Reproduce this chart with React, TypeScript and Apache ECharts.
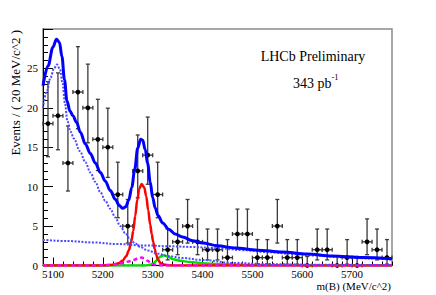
import React, { useEffect, useRef } from 'react';
import * as echarts from 'echarts';

const SERIF = 'Liberation Serif, Times New Roman, serif';

// Histogram (20 MeV bins)
const binCenters = [5090, 5110, 5130, 5150, 5170, 5190, 5210, 5230, 5250, 5270, 5290, 5310, 5330, 5350, 5370, 5390, 5410, 5430, 5450, 5470, 5490, 5510, 5530, 5550, 5570, 5590, 5610, 5630, 5650, 5670, 5690, 5710, 5730, 5750, 5770];
const binCounts = [18, 19, 13, 22, 20, 16, 15, 9, 5, 12, 14, 9, 2, 3, 5, 3, 2, 2, 1, 4, 4, 1, 1, 5, 1, 1, 0, 2, 2, 0, 1, 0, 3, 2, 1];
const binHalfWidth = 10;

// Axis ticks
const xMajorTicks = [5100, 5200, 5300, 5400, 5500, 5600, 5700];
const xMinorTicks = [5080, 5100, 5120, 5140, 5160, 5180, 5200, 5220, 5240, 5260, 5280, 5300, 5320, 5340, 5360, 5380, 5400, 5420, 5440, 5460, 5480, 5500, 5520, 5540, 5560, 5580, 5600, 5620, 5640, 5660, 5680, 5700, 5720, 5740, 5760, 5780];

// Total fit (solid blue)
const totalMass = [5080, 5090, 5100, 5107, 5113, 5118, 5123, 5128, 5134, 5140, 5147, 5155, 5165, 5175, 5185, 5195, 5205, 5215, 5225, 5233, 5240, 5246, 5252, 5258, 5264, 5270, 5276, 5280, 5285, 5290, 5295, 5300, 5305, 5311, 5320, 5332, 5345, 5360, 5380, 5400, 5430, 5465, 5510, 5560, 5610, 5660, 5720, 5780];
const totalFit = [22.8, 25.3, 27.7, 28.7, 28.3, 26.5, 23.6, 20.9, 19.6, 19.0, 18.2, 16.9, 15.4, 14.2, 13.0, 11.8, 10.7, 9.5, 8.4, 7.6, 7.25, 7.45, 8.3, 9.9, 12.2, 14.9, 16.0, 15.9, 14.7, 12.9, 10.6, 8.6, 7.3, 6.3, 5.4, 4.6, 4.0, 3.6, 3.15, 2.85, 2.5, 2.22, 1.95, 1.7, 1.45, 1.2, 1.0, 0.84];

// Partially reconstructed background (dotted blue)
const partMass = [5080, 5088, 5095, 5102, 5108, 5114, 5119, 5124, 5129, 5135, 5142, 5154, 5165, 5175, 5185, 5195, 5205, 5215, 5225, 5235, 5245, 5255, 5265, 5275, 5290, 5310, 5330, 5360, 5400, 5460, 5530, 5620, 5700, 5780];
const partFit = [20.0, 22.2, 23.8, 25.0, 25.5, 24.9, 23.2, 20.6, 18.3, 17.0, 16.1, 14.5, 13.1, 11.8, 10.6, 9.3, 8.2, 7.2, 6.1, 5.0, 4.1, 3.3, 2.8, 2.35, 1.9, 1.5, 1.2, 0.95, 0.7, 0.32, 0.18, 0.1, 0.07, 0.05];

// Combinatorial background (dotted blue)
const combMass = [5080, 5130, 5180, 5230, 5280, 5330, 5380, 5430, 5480, 5530, 5580, 5630, 5680, 5730, 5780];
const combFit = [3.25, 3.1, 2.92, 2.72, 2.55, 2.45, 2.35, 2.2, 1.95, 1.7, 1.47, 1.25, 1.05, 0.9, 0.75];

// Signal (red)
const sigMass = [5080, 5200, 5220, 5232, 5240, 5247, 5252, 5257, 5261, 5265, 5269, 5273, 5278, 5283, 5287, 5291, 5295, 5298, 5301, 5304, 5307, 5311, 5316, 5325, 5340, 5780];
const sigFit = [0, 0, 0.08, 0.3, 0.65, 1.2, 1.9, 3.0, 4.4, 6.3, 8.3, 9.7, 10.35, 9.9, 8.8, 7.0, 5.2, 4.0, 3.0, 2.1, 1.35, 0.7, 0.3, 0.08, 0, 0];

// Magenta dashed component
const magMass = [5080, 5180, 5205, 5225, 5240, 5252, 5262, 5271, 5278, 5284, 5290, 5296, 5303, 5312, 5325, 5780];
const magFit = [0, 0, 0.05, 0.15, 0.32, 0.52, 0.72, 0.92, 1.0, 0.88, 0.6, 0.32, 0.12, 0.03, 0, 0];

// Green component
const greenMass = [5080, 5285, 5295, 5301, 5306, 5311, 5316, 5322, 5330, 5341, 5356, 5374, 5407, 5447, 5500, 5600, 5780];
const greenFit = [0, 0, 0.1, 0.25, 0.55, 0.9, 1.15, 1.3, 1.15, 0.8, 0.6, 0.45, 0.25, 0.13, 0.06, 0.02, 0];

function poissonLow(n: number) {
  if (n === 0) return 0;
  return n * Math.pow(1 - 1 / (9 * n) - 1 / (3 * Math.sqrt(n)), 3);
}
function poissonHigh(n: number) {
  if (n === 0) return 1.148;
  const m = n + 1;
  return m * Math.pow(1 - 1 / (9 * m) + 1 / (3 * Math.sqrt(m)), 3);
}

const zip = (xs: number[], ys: number[]) => xs.map((x, i) => [x, ys[i]]);

export default function App() {
  const ref = useRef<HTMLDivElement>(null);
  useEffect(() => {
    if (!ref.current) return;
    const chart = echarts.init(ref.current, undefined, { renderer: 'svg' });
    const histData = binCenters.map((x, i) => [x, binCounts[i], poissonLow(binCounts[i]), poissonHigh(binCounts[i])]);
    const barColor = '#3a3a3a';
    const lineSeries = (name: string, xs: number[], ys: number[], color: string, width: number, type: any) => ({
      name,
      type: 'line',
      data: zip(xs, ys),
      showSymbol: false,
      smooth: 0.35,
      smoothMonotone: 'x',
      lineStyle: { color, width, type },
      silent: true,
    });
    const option: any = {
      animation: false,
      backgroundColor: '#ffffff',
      textStyle: { fontFamily: SERIF },
      grid: { left: 43, right: 44, top: 29, bottom: 29.5, show: true, borderColor: '#8a8a8a', borderWidth: 1.5, backgroundColor: 'transparent' },
      xAxis: [
        {
          type: 'value', min: 5080, max: 5780, position: 'bottom',
          axisLine: { show: true, onZero: false, lineStyle: { color: '#000', width: 1 } },
          axisTick: { show: true, inside: true, length: 8, customValues: xMajorTicks, lineStyle: { color: '#000', width: 1 } },
          axisLabel: { customValues: xMajorTicks, fontSize: 11, color: '#000', margin: 3, fontFamily: SERIF, formatter: (v: number) => String(v) },
          splitLine: { show: false },
        },
        {
          type: 'value', min: 5080, max: 5780, position: 'bottom',
          axisLine: { show: false, onZero: false },
          axisTick: { show: true, inside: true, length: 4, customValues: xMinorTicks, lineStyle: { color: '#000', width: 1 } },
          axisLabel: { show: false },
          splitLine: { show: false },
        },
      ],
      yAxis: {
        type: 'value', min: 0, max: 30, interval: 5,
        axisLine: { show: true, onZero: false, lineStyle: { color: '#000', width: 1 } },
        axisTick: { show: true, inside: true, length: 10, lineStyle: { color: '#000', width: 1 } },
        minorTick: { show: true, splitNumber: 5, length: 5, lineStyle: { color: '#000', width: 1 } },
        axisLabel: { showMaxLabel: false, fontSize: 11, color: '#000', margin: 5, fontFamily: SERIF },
        splitLine: { show: false },
      },
      series: [
        {
          type: 'custom',
          data: histData,
          silent: true,
          renderItem: (params: any, api: any) => {
            const x = api.value(0), n = api.value(1), lo = api.value(2), hi = api.value(3);
            const c = api.coord([x, n]);
            const t = api.coord([x, hi]);
            const b = api.coord([x, lo]);
            const l = api.coord([x - binHalfWidth, n]);
            const r = api.coord([x + binHalfWidth, n]);
            const st = { stroke: barColor, lineWidth: 1.3 };
            const cap = 2;
            const children: any[] = [
              { type: 'line', shape: { x1: c[0], y1: t[1], x2: c[0], y2: b[1] }, style: st },
              { type: 'line', shape: { x1: c[0] - cap, y1: t[1], x2: c[0] + cap, y2: t[1] }, style: st },
              { type: 'line', shape: { x1: l[0], y1: c[1], x2: r[0], y2: c[1] }, style: st },
              { type: 'line', shape: { x1: l[0], y1: c[1] - cap, x2: l[0], y2: c[1] + cap }, style: st },
              { type: 'line', shape: { x1: r[0], y1: c[1] - cap, x2: r[0], y2: c[1] + cap }, style: st },
              { type: 'circle', shape: { cx: c[0], cy: c[1], r: 2.4 }, style: { fill: '#000' } },
            ];
            if (n > 0) {
              children.push({ type: 'line', shape: { x1: c[0] - cap, y1: b[1], x2: c[0] + cap, y2: b[1] }, style: st });
            }
            return { type: 'group', children };
          },
        },
        lineSeries('green', greenMass, greenFit, '#00e000', 2.5, 'solid'),
        lineSeries('signal', sigMass, sigFit, '#ff0000', 2.5, 'solid'),
        lineSeries('magenta', magMass, magFit, '#ff00ff', 2.5, [4, 3]),
        lineSeries('comb', combMass, combFit, '#4a4aff', 2, [2, 1.5]),
        lineSeries('part', partMass, partFit, '#4a4aff', 2, [2, 1.5]),
        lineSeries('total', totalMass, totalFit, '#0000ff', 3, 'solid'),
      ],
      graphic: [
        { type: 'text', x: 313, y: 56.5, z: 100, style: { text: 'LHCb Preliminary', fontFamily: SERIF, fontSize: 14, fill: '#000', textAlign: 'center', textVerticalAlign: 'middle' } },
        { type: 'text', x: 293, y: 83, z: 100, style: { text: '343 pb', fontFamily: SERIF, fontSize: 14, fill: '#000', textAlign: 'left', textVerticalAlign: 'middle' } },
        { type: 'text', x: 331.5, y: 77, z: 100, style: { text: '-1', fontFamily: SERIF, fontSize: 8.5, fill: '#000', textAlign: 'left', textVerticalAlign: 'middle' } },
        { type: 'text', x: 15, y: 30, rotation: Math.PI / 2, z: 100, style: { text: 'Events / ( 20 MeV/c^2 )', fontFamily: SERIF, fontSize: 13, fill: '#000', textAlign: 'right', textVerticalAlign: 'middle' } },
        { type: 'text', x: 391, y: 286, z: 100, style: { text: 'm(B) (MeV/c^2)', fontFamily: SERIF, fontSize: 11, fill: '#000', textAlign: 'right', textVerticalAlign: 'middle' } },
      ],
    };
    chart.setOption(option);
    return () => chart.dispose();
  }, []);
  return <div ref={ref} style={{ position: 'absolute', left: 0, top: 0, width: 436, height: 295, background: '#fff' }} />;
}
